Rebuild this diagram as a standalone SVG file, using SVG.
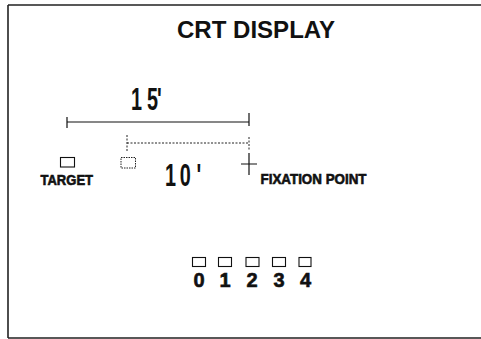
<svg xmlns="http://www.w3.org/2000/svg" width="481" height="339" viewBox="0 0 481 339">
<style>
.frame{stroke:#222;stroke-width:1.6;fill:none}
.ln{stroke:#111;stroke-width:1.2;fill:none}
.dot{stroke:#222;stroke-width:1;stroke-dasharray:2 1.5;fill:none}
.box{stroke:#111;stroke-width:1.1;fill:none}
.dbox{stroke:#222;stroke-width:1;stroke-dasharray:1.5 1;fill:none}
.t{font-family:"Liberation Sans",Arial,sans-serif;font-weight:bold;fill:#111}
.hv{stroke:#111;stroke-width:0.6}
.deg{font-family:"Liberation Sans",Arial,sans-serif;font-weight:bold;fill:#111;font-size:32px}
</style>
<rect width="481" height="339" fill="#fff"/>
<g id="frame">
<path class="frame" d="M8,5 H481 M8,5 V338 M8,338 H481"/>
</g>
<g id="title"><text class="t" x="256" y="38" font-size="23" text-anchor="middle" textLength="158" lengthAdjust="spacingAndGlyphs">CRT DISPLAY</text></g>
<g id="connectors">
<path class="ln" d="M67,122 H249 M67,117 V128 M249,113 V126"/>
<path class="dot" d="M127,143 H249 M127,135 V152 M249,137 V150"/>
</g>
<g id="label15"><text class="deg" transform="translate(131,110) scale(0.62,1)"><tspan x="0">1</tspan><tspan x="26">5</tspan><tspan x="42">'</tspan></text></g>
<g id="target">
<rect class="box" x="60.5" y="157.5" width="14" height="9.5"/>
<text class="t hv" x="40.5" y="185" font-size="14" textLength="52.5" lengthAdjust="spacingAndGlyphs">TARGET</text>
</g>
<g id="shifted">
<rect class="dbox" x="121" y="157.5" width="14.5" height="10.5"/>
</g>
<g id="label10"><text class="deg" transform="translate(165,186) scale(0.62,1)"><tspan x="0">1</tspan><tspan x="24">0</tspan><tspan x="51">'</tspan></text></g>
<g id="fixation">
<path class="ln" d="M249,153 V175 M241,164 H257"/>
<text class="t hv" x="260.5" y="183.5" font-size="14" textLength="106" lengthAdjust="spacingAndGlyphs">FIXATION POINT</text>
</g>
<g id="positions">
<rect class="box" x="192.5" y="257.5" width="13" height="9"/>
<rect class="box" x="218.5" y="257.5" width="13" height="9"/>
<rect class="box" x="246" y="257.5" width="13" height="9"/>
<rect class="box" x="272.5" y="257.5" width="13" height="9"/>
<rect class="box" x="299" y="257.5" width="12" height="9"/>
<text class="t hv" font-size="20" text-anchor="middle" y="287"><tspan x="199">0</tspan><tspan x="225">1</tspan><tspan x="252">2</tspan><tspan x="279">3</tspan><tspan x="305.5">4</tspan></text>
</g>
</svg>
